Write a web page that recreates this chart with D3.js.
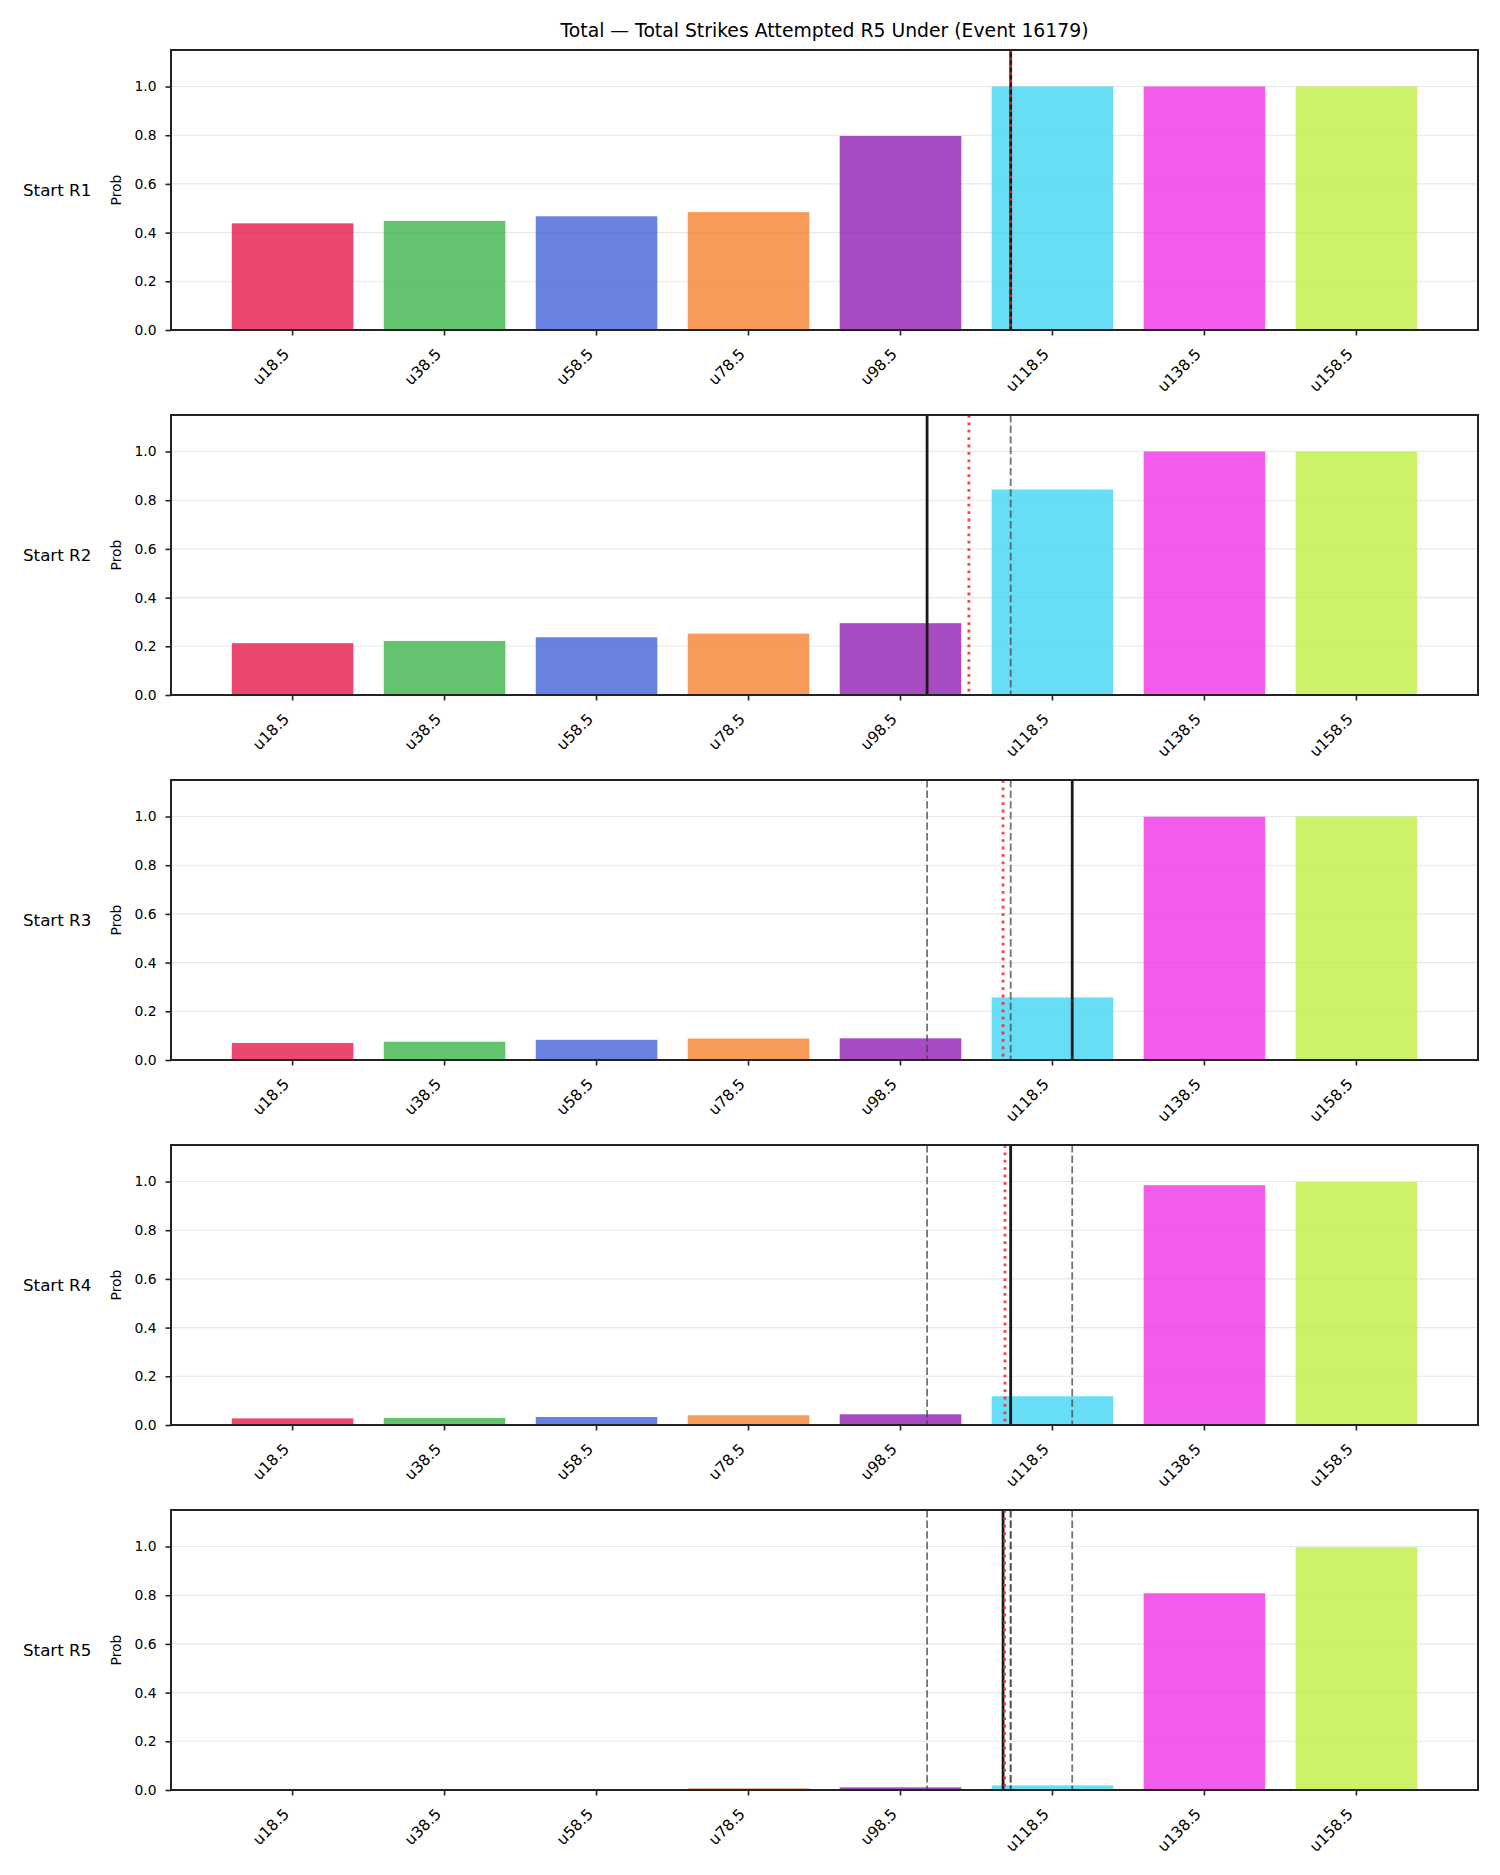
<!DOCTYPE html>
<html>
<head>
<meta charset="utf-8">
<script src="https://cdn.jsdelivr.net/npm/d3@7"></script>
<style>
  body { margin: 0; background: #fff; }
  svg { display: block; font-family: "DejaVu Sans", sans-serif; }
</style>
</head>
<body>
<svg id="chart" width="1500" height="1875"></svg>
<script>
// ---------------- DATA ----------------
const title = "Total \u2014 Total Strikes Attempted R5 Under (Event 16179)";
const categories = ["u18.5", "u38.5", "u58.5", "u78.5", "u98.5", "u118.5", "u138.5", "u158.5"];
const thresholds = [18.5, 38.5, 58.5, 78.5, 98.5, 118.5, 138.5, 158.5];
const colors = ["#e6194b", "#3cb44b", "#4363d8", "#f58231", "#911eb4", "#42d4f4", "#f032e6", "#bfef45"];
const rounds = ["Start R1", "Start R2", "Start R3", "Start R4", "Start R5"];

const probR1 = [0.438, 0.448, 0.467, 0.484, 0.797, 1.0, 1.0, 1.0];
const probR2 = [0.213, 0.222, 0.237, 0.252, 0.295, 0.844, 1.0, 1.0];
const probR3 = [0.070, 0.075, 0.083, 0.088, 0.089, 0.257, 0.999, 1.0];
const probR4 = [0.027, 0.029, 0.033, 0.040, 0.044, 0.118, 0.985, 0.998];
const probR5 = [0.0005, 0.001, 0.002, 0.007, 0.011, 0.019, 0.808, 0.997];
const probs = [probR1, probR2, probR3, probR4, probR5];

// projected total at each round start (solid line); earlier ones shown dashed
const projected = [113, 102, 121.1, 113, 112];
// running mean of the projections (red dotted line)
const runningMean = [113, 107.5, 112, 112.25, 112.2];

const yTicks = [0, 0.2, 0.4, 0.6, 0.8, 1.0];

// ---------------- LAYOUT ----------------
const svg = d3.select("#chart");
const left = 171, right = 1478;
const firstTop = 50, panelH = 280, panelStep = 365;

const x = d3.scaleBand().domain(categories).range([left, right])
  .paddingInner(0.2).paddingOuter(0.4);
const bw = x.bandwidth();
const xv = d3.scaleLinear()
  .domain([thresholds[0], thresholds[thresholds.length - 1]])
  .range([x(categories[0]) + bw / 2, x(categories[categories.length - 1]) + bw / 2]);

svg.append("text")
  .attr("x", (left + right) / 2).attr("y", 37)
  .attr("text-anchor", "middle")
  .attr("font-size", "18.8px").attr("fill", "#000")
  .text(title);

const defs = svg.append("defs");

probs.forEach((vals, i) => {
  const top = firstTop + i * panelStep;
  const bottom = top + panelH;
  const y = d3.scaleLinear().domain([0, 1.15]).range([bottom, top]);
  const g = svg.append("g");

  defs.append("clipPath").attr("id", "clip" + i)
    .append("rect").attr("x", left).attr("y", top)
    .attr("width", right - left).attr("height", panelH);

  // grid
  g.append("g").selectAll("line").data(yTicks).join("line")
    .attr("x1", left).attr("x2", right)
    .attr("y1", d => y(d)).attr("y2", d => y(d))
    .attr("stroke", "#b0b0b0").attr("stroke-opacity", 0.3).attr("stroke-width", 1.1);

  // bars
  g.append("g").selectAll("rect").data(vals).join("rect")
    .attr("x", (d, j) => x(categories[j]))
    .attr("width", bw)
    .attr("y", d => y(d))
    .attr("height", d => y(0) - y(d))
    .attr("fill", (d, j) => colors[j])
    .attr("fill-opacity", 0.8);

  const lines = g.append("g").attr("clip-path", `url(#clip${i})`);
  // previous projections (dashed)
  lines.selectAll("line.prev").data(projected.slice(0, i)).join("line")
    .attr("class", "prev")
    .attr("x1", d => xv(d)).attr("x2", d => xv(d))
    .attr("y1", top).attr("y2", bottom)
    .attr("stroke", "#444").attr("stroke-opacity", 0.75)
    .attr("stroke-width", 1.8).attr("stroke-dasharray", "7.4,3.2");
  // current projection (solid)
  lines.append("line")
    .attr("x1", xv(projected[i])).attr("x2", xv(projected[i]))
    .attr("y1", top).attr("y2", bottom)
    .attr("stroke", "#1a1a1a").attr("stroke-width", 2.8);
  // running mean (red dotted)
  lines.append("line")
    .attr("x1", xv(runningMean[i])).attr("x2", xv(runningMean[i]))
    .attr("y1", top).attr("y2", bottom)
    .attr("stroke", "#ff2020").attr("stroke-opacity", 0.85)
    .attr("stroke-width", 2.8).attr("stroke-dasharray", "2.8,4.6");

  // frame
  g.append("rect").attr("x", left).attr("y", top)
    .attr("width", right - left).attr("height", panelH)
    .attr("fill", "none").attr("stroke", "#222").attr("stroke-width", 2);

  // y axis
  const ya = g.append("g").attr("transform", `translate(${left},0)`)
    .call(d3.axisLeft(y).tickValues(yTicks).tickFormat(d3.format(".1f"))
      .tickSize(5.5).tickPadding(9));
  ya.select(".domain").remove();
  ya.selectAll(".tick line").attr("stroke", "#222").attr("stroke-width", 1.6);
  ya.selectAll(".tick text").attr("font-size", "13.9px").attr("fill", "#000")
    .attr("font-family", "DejaVu Sans");

  // x axis
  const xa = g.append("g").attr("transform", `translate(0,${bottom})`)
    .call(d3.axisBottom(x).tickSize(5.5));
  xa.select(".domain").remove();
  xa.selectAll(".tick line").attr("stroke", "#222").attr("stroke-width", 1.6);
  xa.selectAll(".tick text")
    .attr("font-size", "15.3px").attr("fill", "#000").attr("font-family", "DejaVu Sans")
    .attr("text-anchor", "end").attr("x", 0).attr("y", 0).attr("dy", 0)
    .attr("transform", "translate(-2.5,25) rotate(-45)");

  // labels
  svg.append("text")
    .attr("transform", `translate(120.5,${(top + bottom) / 2}) rotate(-90)`)
    .attr("text-anchor", "middle")
    .attr("font-size", "13.9px").attr("fill", "#000")
    .text("Prob");
  svg.append("text")
    .attr("x", 23).attr("y", (top + bottom) / 2 + 6)
    .attr("font-size", "16.7px").attr("fill", "#000")
    .text(rounds[i]);
});
</script>
</body>
</html>
